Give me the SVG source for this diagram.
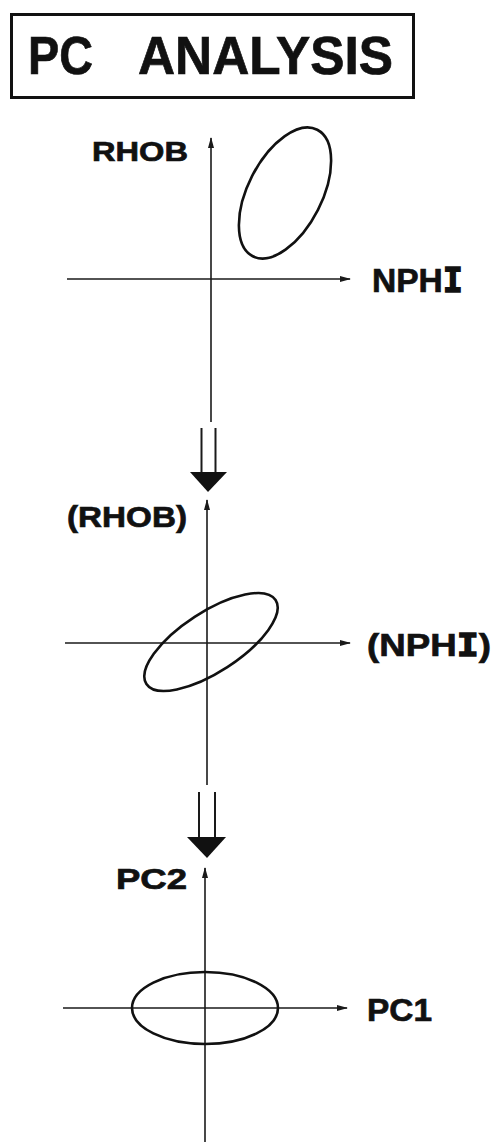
<svg xmlns="http://www.w3.org/2000/svg" width="496" height="1142" viewBox="0 0 496 1142">
  <style>
    .lbl { font-family: "Liberation Sans", Arial, sans-serif; font-weight: bold; fill: #111; stroke: #111; stroke-width: 0.7; }
    .mono { font-family: "DejaVu Sans Mono", "Liberation Mono", monospace; font-weight: bold; stroke-width: 1.4; }
    .axis { stroke: #1a1a1a; stroke-width: 1.6; fill: none; marker-end: url(#tip); }
    .cloud { stroke: #111; stroke-width: 2.6; fill: none; }
    .shaft { stroke: #1a1a1a; stroke-width: 2; fill: none; }
    .head { fill: #111; stroke: none; }
  </style>
  <defs>
    <marker id="tip" markerUnits="userSpaceOnUse" markerWidth="12" markerHeight="8" refX="10" refY="3" orient="auto">
      <path d="M0,0 L11,3 L0,6 Z" fill="#1a1a1a"/>
    </marker>
  </defs>
  <rect width="496" height="1142" fill="#fff"/>

  <!-- title box -->
  <g id="title">
    <rect x="11.5" y="14.5" width="402" height="83" fill="none" stroke="#111" stroke-width="3"/>
    <text class="lbl" x="28" y="74" font-size="54" textLength="65" lengthAdjust="spacingAndGlyphs">PC</text>
    <text class="lbl" x="138" y="74" font-size="54" textLength="255" lengthAdjust="spacingAndGlyphs">ANALYSIS</text>
  </g>

  <!-- panel 1: raw log cross-plot -->
  <g id="plot-raw">
    <line class="axis" x1="211" y1="422" x2="211" y2="138"/>
    <line class="axis" x1="67" y1="279" x2="350" y2="279"/>
    <ellipse class="cloud" cx="285" cy="193" rx="71" ry="37" transform="rotate(-63 285 193)"/>
    <text class="lbl" x="92" y="161" font-size="28" textLength="96" lengthAdjust="spacingAndGlyphs">RHOB</text>
    <text class="lbl" x="372" y="292" font-size="34" textLength="91" lengthAdjust="spacingAndGlyphs">NPH<tspan class="mono">I</tspan></text>
  </g>

  <!-- panel 2: standardised logs -->
  <g id="plot-std">
    <line class="axis" x1="207" y1="785" x2="207" y2="500"/>
    <line class="axis" x1="65" y1="643" x2="350" y2="643"/>
    <ellipse class="cloud" cx="211" cy="642" rx="77" ry="30" transform="rotate(-33 211 642)"/>
    <text class="lbl" x="67" y="527" font-size="30" textLength="120" lengthAdjust="spacingAndGlyphs">(RHOB)</text>
    <text class="lbl" x="367" y="656" font-size="32" textLength="124" lengthAdjust="spacingAndGlyphs">(NPH<tspan class="mono">I</tspan>)</text>
  </g>

  <!-- panel 3: principal components -->
  <g id="plot-pc">
    <line class="axis" x1="205" y1="1142" x2="205" y2="868"/>
    <line class="axis" x1="63" y1="1008" x2="347" y2="1008"/>
    <ellipse class="cloud" cx="205" cy="1008" rx="73" ry="36"/>
    <text class="lbl" x="116" y="889" font-size="29" textLength="71" lengthAdjust="spacingAndGlyphs">PC2</text>
    <text class="lbl" x="367" y="1021" font-size="32" textLength="65" lengthAdjust="spacingAndGlyphs">PC1</text>
  </g>

  <!-- transformation arrows between panels -->
  <g id="connectors">
    <g id="step-1">
      <line class="shaft" x1="201.5" y1="428" x2="201.5" y2="473"/>
      <line class="shaft" x1="215.5" y1="428" x2="215.5" y2="473"/>
      <polygon class="head" points="190,472 227,472 208,492"/>
    </g>
    <g id="step-2">
      <line class="shaft" x1="199" y1="792" x2="199" y2="838"/>
      <line class="shaft" x1="215" y1="792" x2="215" y2="838"/>
      <polygon class="head" points="187,837 226,837 207,858"/>
    </g>
  </g>
</svg>
